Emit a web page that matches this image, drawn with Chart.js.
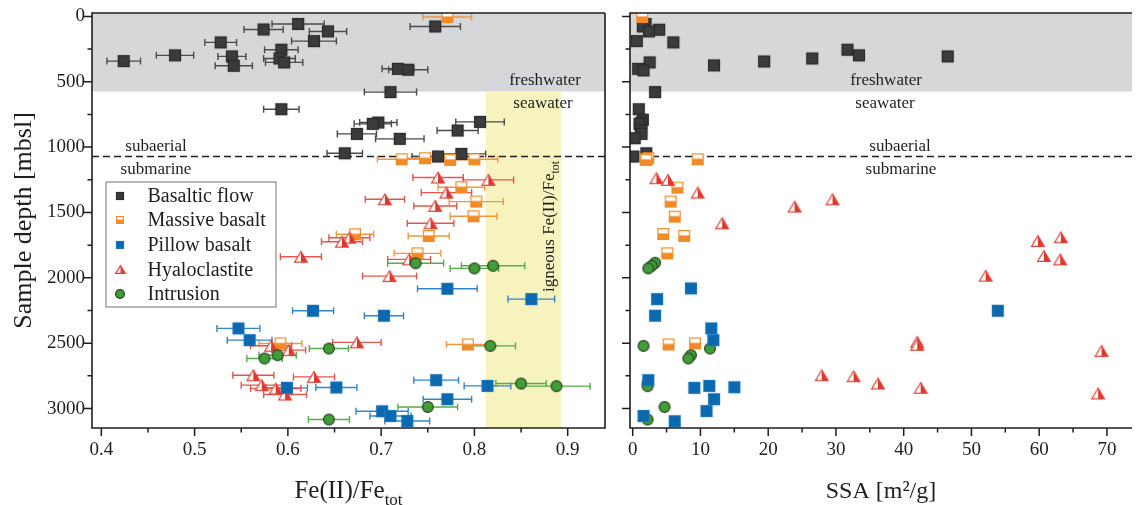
<!DOCTYPE html>
<html>
<head>
<meta charset="utf-8">
<script src="https://cdn.jsdelivr.net/npm/chart.js@4.4.1/dist/chart.umd.min.js"></script>
<style>
  html, body { margin: 0; padding: 0; background: #fff; }
  #wrap { position: relative; width: 1137px; height: 505px; overflow: hidden; background: #fff; }
  #feChart { position: absolute; left: 0; top: 0; }
  #ssaChart { position: absolute; left: 612px; top: 0; }
</style>
</head>
<body>
<div id="wrap">
  <canvas id="feChart" width="612" height="505"></canvas>
  <canvas id="ssaChart" width="525" height="505"></canvas>
</div>
<script>
// ---------------- values ----------------
const depthTicks = [0, 500, 1000, 1500, 2000, 2500, 3000];
const feTicks = [0.4, 0.5, 0.6, 0.7, 0.8, 0.9];
const ssaTicks = [0, 10, 20, 30, 40, 50, 60, 70];

const freshwaterBase = 575;    // freshwater / seawater boundary [mbsl]
const subaerialBase = 1072;    // subaerial / submarine boundary [mbsl]
const igneousFe = [0.812, 0.893];

const seriesNames = ['Basaltic flow', 'Massive basalt', 'Pillow basalt', 'Hyaloclastite', 'Intrusion'];

// [depth mbsl, Fe(II)/Fe_tot, ± error]
const flowFe = [
  [58, 0.611, 0.028], [77, 0.758, 0.027], [100, 0.574, 0.021], [115, 0.643, 0.020],
  [189, 0.628, 0.024], [199, 0.528, 0.017], [255, 0.593, 0.018], [298, 0.479, 0.020],
  [306, 0.540, 0.015], [322, 0.591, 0.017], [342, 0.424, 0.018], [352, 0.596, 0.020],
  [378, 0.542, 0.020], [401, 0.718, 0.017], [408, 0.729, 0.021], [579, 0.710, 0.028],
  [710, 0.593, 0.019], [807, 0.806, 0.026], [812, 0.697, 0.020], [822, 0.691, 0.020],
  [873, 0.782, 0.022], [899, 0.674, 0.021], [937, 0.720, 0.026], [1047, 0.661, 0.019],
  [1052, 0.786, 0.026], [1072, 0.761, 0.028]
];
const massiveFe = [
  [5, 0.771, 0.026], [1093, 0.722, 0.026], [1085, 0.747, 0.025], [1098, 0.774, 0.025],
  [1093, 0.800, 0.025], [1307, 0.786, 0.025], [1417, 0.802, 0.029], [1529, 0.799, 0.025],
  [1667, 0.672, 0.020], [1680, 0.751, 0.022], [1813, 0.739, 0.025], [2502, 0.592, 0.023],
  [2510, 0.793, 0.023]
];
const pillowFe = [
  [2084, 0.771, 0.032], [2163, 0.861, 0.025], [2252, 0.627, 0.022], [2290, 0.703, 0.021],
  [2387, 0.547, 0.023], [2477, 0.559, 0.024], [2783, 0.759, 0.024], [2827, 0.814, 0.025],
  [2839, 0.652, 0.022], [2842, 0.599, 0.022], [2929, 0.771, 0.026], [3021, 0.701, 0.028],
  [3057, 0.710, 0.022], [3095, 0.728, 0.024]
];
const hyaloFe = [
  [1233, 0.761, 0.027], [1251, 0.815, 0.027], [1348, 0.770, 0.027], [1399, 0.704, 0.021],
  [1450, 0.758, 0.023], [1583, 0.753, 0.025], [1693, 0.666, 0.022], [1724, 0.658, 0.022],
  [1839, 0.614, 0.022], [1859, 0.730, 0.023], [1987, 0.709, 0.029], [2494, 0.674, 0.026],
  [2520, 0.582, 0.022], [2553, 0.601, 0.018], [2745, 0.563, 0.022], [2758, 0.628, 0.022],
  [2821, 0.572, 0.022], [2847, 0.587, 0.027], [2893, 0.597, 0.023]
];
const intrusionFe = [
  [1889, 0.737, 0.030], [1908, 0.820, 0.034], [1928, 0.800, 0.026], [2521, 0.817, 0.027],
  [2541, 0.644, 0.021], [2592, 0.589, 0.020], [2617, 0.575, 0.019], [2809, 0.850, 0.027],
  [2829, 0.888, 0.036], [2988, 0.750, 0.032], [3084, 0.644, 0.022]
];

// [depth mbsl, SSA m²/g]
const flowSsa = [
  [58, 1.9], [77, 1.5], [102, 3.9], [115, 2.4], [189, 0.6], [199, 6.0], [255, 31.7],
  [298, 33.4], [306, 46.5], [322, 26.5], [345, 19.4], [352, 2.5], [375, 12.0], [401, 0.8],
  [413, 1.6], [579, 3.3], [710, 0.9], [790, 1.5], [812, 1.3], [822, 1.0], [873, 1.2],
  [899, 1.3], [932, 0.3], [1047, 2.0], [1072, 0.1]
];
const massiveSsa = [
  [5, 1.4], [1085, 2.3], [1093, 1.9], [1093, 9.6], [1098, 2.0], [1310, 6.6], [1417, 5.6],
  [1532, 6.2], [1665, 4.5], [1680, 7.6], [1813, 5.1], [2502, 9.2], [2510, 5.3]
];
const pillowSsa = [
  [2081, 8.6], [2163, 3.6], [2252, 53.9], [2290, 3.3], [2387, 11.6], [2477, 11.9],
  [2783, 2.3], [2827, 11.3], [2837, 15.0], [2842, 9.1], [2929, 12.0], [3019, 10.9],
  [3057, 1.6], [3097, 6.2]
];
const hyaloSsa = [
  [1238, 3.5], [1251, 5.2], [1348, 9.6], [1399, 29.5], [1455, 23.9], [1583, 13.2],
  [1690, 63.2], [1718, 59.8], [1833, 60.7], [1859, 63.1], [1984, 52.1], [2490, 42.0],
  [2513, 42.0], [2559, 69.2], [2745, 27.9], [2753, 32.6], [2809, 36.2], [2842, 42.5],
  [2885, 68.7]
];
const intrusionSsa = [
  [1885, 3.3], [1908, 2.8], [1928, 2.3], [2521, 1.6], [2541, 11.4], [2592, 8.6],
  [2617, 8.2], [2809, 2.2], [2829, 2.2], [2988, 4.7], [3084, 2.2]
];

// ---------------- styling ----------------
const SERIF = '"Liberation Serif", "DejaVu Serif", serif';
const INK = '#1e1e1e';

const styles = [
  { kind: 'square',   fill: '#3b3b3b', stroke: '#2a2a2a', err: '#4a4a4a', order: 5 },
  { kind: 'halfSq',   fill: '#f28a26', stroke: '#f28a26', err: '#f2963e', order: 4 },
  { kind: 'square',   fill: '#0b69b0', stroke: '#1d74b8', err: '#3386c6', order: 1 },
  { kind: 'halfTri',  fill: '#e0362c', stroke: '#e0483e', err: '#e2564d', order: 3 },
  { kind: 'circle',   fill: '#3f9e35', stroke: '#2b3f26', err: '#56ad4b', order: 2 }
];

// builds a small canvas used as a point style
function marker(st, size) {
  const pad = 2;
  const w = st.kind === 'halfTri' ? size + 2 : size;
  const h = size;
  const c = document.createElement('canvas');
  c.width = w + pad * 2; c.height = h + pad * 2;
  const g = c.getContext('2d');
  g.translate(pad, pad);
  g.lineWidth = 1.2;
  if (st.kind === 'square') {
    g.fillStyle = st.fill; g.fillRect(0, 0, w, h);
    g.strokeStyle = st.stroke; g.strokeRect(0.5, 0.5, w - 1, h - 1);
  } else if (st.kind === 'halfSq') {
    g.fillStyle = '#fff'; g.fillRect(0, 0, w, h);
    g.fillStyle = st.fill; g.fillRect(0, h * 0.45, w, h * 0.55);
    g.strokeStyle = st.stroke; g.strokeRect(0.6, 0.6, w - 1.2, h - 1.2);
  } else if (st.kind === 'halfTri') {
    g.beginPath(); g.moveTo(w / 2, 0.6); g.lineTo(w - 0.6, h - 0.6); g.lineTo(0.6, h - 0.6); g.closePath();
    g.fillStyle = '#fff'; g.fill();
    g.save(); g.clip(); g.fillStyle = st.fill; g.fillRect(w / 2, 0, w / 2, h); g.restore();
    g.strokeStyle = st.stroke; g.stroke();
  } else {
    g.beginPath(); g.arc(w / 2, h / 2, w / 2 - 0.6, 0, Math.PI * 2);
    g.fillStyle = st.fill; g.fill();
    g.strokeStyle = st.stroke; g.stroke();
  }
  return c;
}

const bigMarkers = styles.map(s => marker(s, 12));
const legendMarkers = styles.map(s => marker(s, s.kind === 'circle' ? 10 : s.kind === 'halfTri' ? 9 : 8));

Chart.defaults.font.family = SERIF;
Chart.defaults.color = INK;

// ---------------- plugins ----------------
function drawSubText(ctx, main, sub, x, y, size, align) {
  ctx.font = size + 'px ' + SERIF;
  const subSize = Math.round(size * 0.68);
  const wMain = ctx.measureText(main).width;
  ctx.font = subSize + 'px ' + SERIF;
  const wSub = ctx.measureText(sub).width;
  const total = wMain + wSub;
  let x0 = align === 'center' ? x - total / 2 : x;
  ctx.textAlign = 'left';
  ctx.textBaseline = 'alphabetic';
  ctx.font = size + 'px ' + SERIF;
  ctx.fillText(main, x0, y);
  ctx.font = subSize + 'px ' + SERIF;
  ctx.fillText(sub, x0 + wMain, y + size * 0.28);
}

// keeps the plot area exactly where the layout puts it
function fixedBox(size, horizontal) {
  return s => {
    if (horizontal) s.height = size; else s.width = size;
    s.paddingTop = 0; s.paddingBottom = 0; s.paddingLeft = 0; s.paddingRight = 0;
  };
}

const zones = {
  id: 'zones',
  beforeDatasetsDraw(chart, args, opts) {
    const { ctx, chartArea: a, scales: { x, y } } = chart;
    ctx.save();
    ctx.beginPath(); ctx.rect(a.left, a.top, a.right - a.left, a.bottom - a.top); ctx.clip();
    const yb = y.getPixelForValue(freshwaterBase);
    ctx.fillStyle = '#d5d7d9';
    ctx.fillRect(a.left, a.top, a.right - a.left, yb - a.top);
    if (opts.band) {
      const x0 = x.getPixelForValue(igneousFe[0]), x1 = x.getPixelForValue(igneousFe[1]);
      ctx.fillStyle = '#f7f3bf';
      ctx.fillRect(x0, yb, x1 - x0, a.bottom - yb);
    }
    // subaerial / submarine boundary
    const yd = y.getPixelForValue(subaerialBase);
    ctx.strokeStyle = '#1e1e1e'; ctx.lineWidth = 1.6; ctx.setLineDash([7, 4]);
    ctx.beginPath(); ctx.moveTo(a.left, yd); ctx.lineTo(a.right, yd); ctx.stroke();
    ctx.setLineDash([]);
    // zone labels
    ctx.fillStyle = INK; ctx.font = '17px ' + SERIF; ctx.textAlign = 'center'; ctx.textBaseline = 'middle';
    ctx.fillText('freshwater', a.left + opts.fw, yb - 11);
    ctx.fillText('seawater', a.left + opts.sw, yb + 12);
    ctx.fillText('subaerial', a.left + opts.sa, yd - 10);
    ctx.fillText('submarine', a.left + opts.sm, yd + 13);
    if (opts.band) {
      ctx.save();
      ctx.translate(x.getPixelForValue(igneousFe[1]) - 7, a.top + 279);
      ctx.rotate(-Math.PI / 2);
      drawSubText(ctx, 'igneous Fe(II)/Fe', 'tot', 0, 0, 17, 'left');
      ctx.restore();
    }
    ctx.restore();
  }
};

const errorBars = {
  id: 'errorBars',
  beforeDatasetsDraw(chart) {
    const ctx = chart.ctx, xs = chart.scales.x;
    ctx.save();
    chart.data.datasets.forEach((ds, di) => {
      if (!ds.xErr) return;
      const meta = chart.getDatasetMeta(di);
      ctx.strokeStyle = ds.errColor; ctx.lineWidth = 1.4;
      meta.data.forEach((pt, i) => {
        const v = ds.data[i].x, e = ds.xErr[i];
        const x0 = xs.getPixelForValue(v - e), x1 = xs.getPixelForValue(v + e), y = pt.y;
        ctx.beginPath();
        ctx.moveTo(x0, y); ctx.lineTo(x1, y);
        ctx.moveTo(x0, y - 3.5); ctx.lineTo(x0, y + 3.5);
        ctx.moveTo(x1, y - 3.5); ctx.lineTo(x1, y + 3.5);
        ctx.stroke();
      });
    });
    ctx.restore();
  }
};

const frame = {
  id: 'frame',
  afterDatasetsDraw(chart, args, opts) {
    const { ctx, chartArea: a, scales: { x, y } } = chart;
    ctx.save();
    ctx.strokeStyle = INK; ctx.lineWidth = 1.6;
    ctx.beginPath();
    ctx.moveTo(a.right, a.top); ctx.lineTo(a.left, a.top); ctx.lineTo(a.left, a.bottom); ctx.lineTo(a.right, a.bottom);
    if (opts.closed) { ctx.lineTo(a.right, a.top); }
    ctx.stroke();
    // tick marks, pointing outwards
    ctx.lineWidth = 1.5;
    ctx.beginPath();
    for (let v = 0; v <= y.max; v += 250) {
      const p = y.getPixelForValue(v), len = v % 500 === 0 ? 8 : 4.5;
      ctx.moveTo(a.left - len, p); ctx.lineTo(a.left, p);
    }
    const step = opts.xStep;
    for (let k = Math.ceil(x.min / (step / 2) - 1e-9); k * step / 2 <= x.max + 1e-9; k++) {
      const v = k * step / 2, p = x.getPixelForValue(v), len = k % 2 === 0 ? 8 : 4.5;
      ctx.moveTo(p, a.bottom); ctx.lineTo(p, a.bottom + len);
    }
    ctx.stroke();
    // axis titles
    ctx.fillStyle = INK;
    if (opts.xTitleSub) {
      drawSubText(ctx, opts.xTitle, opts.xTitleSub, (a.left + a.right) / 2, 498, 25, 'center');
    } else {
      ctx.font = '24px ' + SERIF; ctx.textAlign = 'center'; ctx.textBaseline = 'alphabetic';
      ctx.fillText(opts.xTitle, (a.left + a.right) / 2, 498);
    }
    if (opts.yTitle) {
      ctx.save();
      ctx.translate(31, (a.top + a.bottom) / 2);
      ctx.rotate(-Math.PI / 2);
      ctx.font = '26px ' + SERIF; ctx.textAlign = 'center'; ctx.textBaseline = 'alphabetic';
      ctx.fillText(opts.yTitle, 0, 0);
      ctx.restore();
    }
    ctx.restore();
  }
};

const boxLegend = {
  id: 'boxLegend',
  afterDatasetsDraw(chart, args, opts) {
    if (!opts.show) return;
    const { ctx, chartArea: a } = chart;
    const bx = a.left + 14, by = a.top + 169, bw = 170, bh = 125;
    ctx.save();
    ctx.fillStyle = '#fff'; ctx.fillRect(bx, by, bw, bh);
    ctx.strokeStyle = '#8a8a8a'; ctx.lineWidth = 1.2; ctx.strokeRect(bx, by, bw, bh);
    ctx.font = '20px ' + SERIF; ctx.fillStyle = INK; ctx.textAlign = 'left'; ctx.textBaseline = 'middle';
    seriesNames.forEach((name, i) => {
      const cy = by + 13.5 + i * 24.6;
      const m = legendMarkers[i];
      ctx.drawImage(m, Math.round(bx + 14 - m.width / 2), Math.round(cy - m.height / 2));
      ctx.fillText(name, bx + 41.5, cy + 1);
    });
    ctx.restore();
  }
};

// ---------------- datasets ----------------
function feSet(rows, i) {
  return {
    label: seriesNames[i],
    data: rows.map(r => ({ x: r[1], y: r[0] })),
    xErr: rows.map(r => r[2]),
    errColor: styles[i].err,
    pointStyle: bigMarkers[i],
    order: styles[i].order
  };
}
function ssaSet(rows, i) {
  return {
    label: seriesNames[i],
    data: rows.map(r => ({ x: r[1], y: r[0] })),
    pointStyle: bigMarkers[i],
    order: styles[i].order
  };
}

const tickFont = { family: SERIF, size: 19 };

new Chart(document.getElementById('feChart'), {
  type: 'scatter',
  data: {
    datasets: [flowFe, massiveFe, pillowFe, hyaloFe, intrusionFe].map(feSet)
  },
  options: {
    responsive: false,
    animation: false,
    layout: { padding: { top: 13, right: 7, left: 0, bottom: 0 } },
    plugins: {
      legend: { display: false },
      tooltip: { enabled: false },
      zones: { band: true, fw: 453, sw: 451, sa: 64, sm: 64 },
      frame: { closed: true, xStep: 0.1, xTitle: 'Fe(II)/Fe', xTitleSub: 'tot', yTitle: 'Sample depth [mbsl]' },
      boxLegend: { show: true }
    },
    scales: {
      x: {
        type: 'linear', min: 0.39, max: 0.94,
        afterBuildTicks: s => { s.ticks = feTicks.map(v => ({ value: v })); },
        afterFit: fixedBox(77, true),
        grid: { display: false, drawTicks: false },
        border: { display: false },
        ticks: { font: tickFont, color: INK, padding: 11, maxRotation: 0, callback: v => v.toFixed(1) }
      },
      y: {
        type: 'linear', reverse: true, min: -26, max: 3149,
        afterBuildTicks: s => { s.ticks = depthTicks.map(v => ({ value: v })); },
        afterFit: fixedBox(92, false),
        grid: { display: false, drawTicks: false },
        border: { display: false },
        ticks: { font: tickFont, color: INK, padding: 7, callback: v => String(v) }
      }
    }
  },
  plugins: [zones, errorBars, frame, boxLegend]
});

new Chart(document.getElementById('ssaChart'), {
  type: 'scatter',
  data: {
    datasets: [flowSsa, massiveSsa, pillowSsa, hyaloSsa, intrusionSsa].map(ssaSet)
  },
  options: {
    responsive: false,
    animation: false,
    layout: { padding: { top: 13, right: 0, left: 0, bottom: 0 } },
    plugins: {
      legend: { display: false },
      tooltip: { enabled: false },
      zones: { band: false, fw: 256, sw: 255, sa: 270, sm: 271 },
      frame: { closed: false, xStep: 10, xTitle: 'SSA [m²/g]' },
      boxLegend: { show: false }
    },
    scales: {
      x: {
        type: 'linear', min: -0.4, max: 73.7,
        afterBuildTicks: s => { s.ticks = ssaTicks.map(v => ({ value: v })); },
        afterFit: fixedBox(77, true),
        grid: { display: false, drawTicks: false },
        border: { display: false },
        ticks: { font: tickFont, color: INK, padding: 11, maxRotation: 0, callback: v => String(v) }
      },
      y: {
        type: 'linear', reverse: true, min: -26, max: 3149,
        afterBuildTicks: s => { s.ticks = depthTicks.map(v => ({ value: v })); },
        afterFit: fixedBox(18, false),
        grid: { display: false, drawTicks: false },
        border: { display: false },
        ticks: { display: false }
      }
    }
  },
  plugins: [zones, errorBars, frame, boxLegend]
});
</script>
</body>
</html>
